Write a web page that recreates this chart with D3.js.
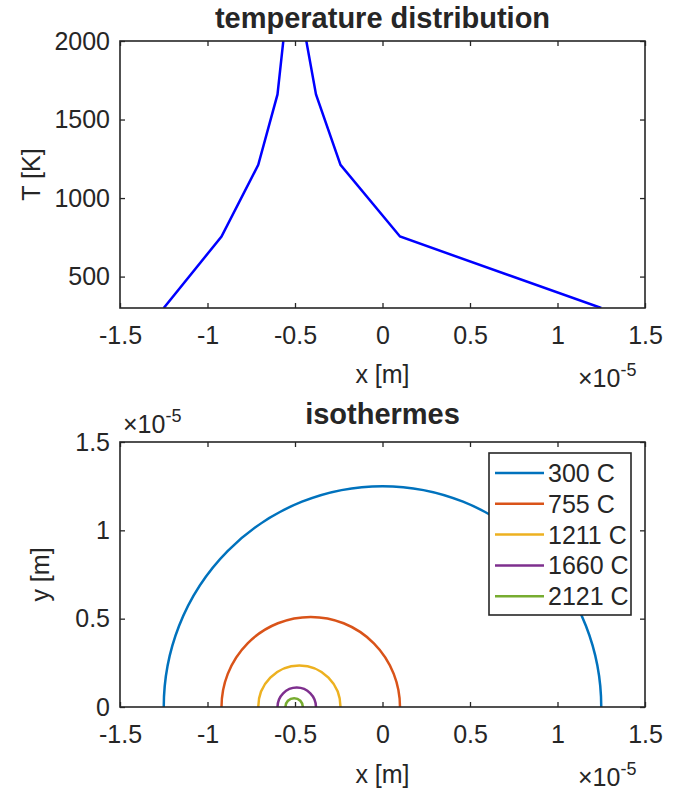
<!DOCTYPE html>
<html>
<head>
<meta charset="utf-8">
<script src="https://cdn.jsdelivr.net/npm/d3@7"></script>
<style>
  body { margin: 0; background: #fff; }
  text { font-family: "Liberation Sans", Arial, sans-serif; fill: #262626; }
</style>
</head>
<body>
<div id="chart"></div>
<script>
// isotherm temperatures and where each one crosses y = 0 (x in 1e-5 m)
var isoTemps = [300, 755, 1211, 1660, 2121];
var isoLeft = [-1.25, -0.92, -0.71, -0.60, -0.555];
var isoRight = [1.25, 0.10, -0.24, -0.38, -0.455];
var isoLabels = ["300 C", "755 C", "1211 C", "1660 C", "2121 C"];

var xTicks = [-1.5, -1, -0.5, 0, 0.5, 1, 1.5];
var tempTicks = [500, 1000, 1500, 2000];
var yTicks = [0, 0.5, 1, 1.5];

var colors = ["#0072BD", "#D95319", "#EDB120", "#7E2F8E", "#77AC30"];

var svg = d3.select("#chart").append("svg")
    .attr("width", 686)
    .attr("height", 792);

var left = 120, right = 645;
var x = d3.scaleLinear().domain([-1.5, 1.5]).range([left, right]);

function drawFrame(g, yScale, yVals, top, bottom) {
    var xb = d3.axisBottom(x).tickValues(xTicks).tickSize(-5).tickPadding(18)
        .tickFormat(function (d) { return String(d); });
    var xt = d3.axisTop(x).tickValues(xTicks).tickSize(-5).tickFormat("");
    var yl = d3.axisLeft(yScale).tickValues(yVals).tickSize(-5).tickPadding(10)
        .tickFormat(function (d) { return String(d); });
    var yr = d3.axisRight(yScale).tickValues(yVals).tickSize(-5).tickFormat("");

    g.append("g").attr("transform", "translate(0," + bottom + ")").call(xb);
    g.append("g").attr("transform", "translate(0," + top + ")").call(xt);
    g.append("g").attr("transform", "translate(" + left + ",0)").call(yl);
    g.append("g").attr("transform", "translate(" + right + ",0)").call(yr);

    g.selectAll(".domain").remove();
    g.selectAll(".tick line").attr("stroke", "#262626").attr("stroke-width", 1.3);
    g.selectAll(".tick text")
        .style("font-size", "25px")
        .attr("fill", "#262626");

    g.append("rect")
        .attr("x", left).attr("y", top)
        .attr("width", right - left).attr("height", bottom - top)
        .attr("fill", "none")
        .attr("stroke", "#262626")
        .attr("stroke-width", 1.6);
}

function exponentLabel(g, px, py) {
    var t = g.append("text").attr("x", px).attr("y", py).style("font-size", "25px");
    t.append("tspan").text("\u00d710");
    t.append("tspan").attr("dy", -11).style("font-size", "18px").text("-5");
}

// ---- top: temperature distribution ----
function drawProfile() {
    var top = 41, bottom = 308;
    var yT = d3.scaleLinear().domain([300, 2000]).range([bottom, top]);
    var g = svg.append("g");

    var pts = [];
    for (var i = 0; i < isoTemps.length; i++) pts.push([isoLeft[i], isoTemps[i]]);
    for (var j = isoTemps.length - 1; j >= 0; j--) pts.push([isoRight[j], isoTemps[j]]);

    g.append("clipPath").attr("id", "clipTop")
        .append("rect")
        .attr("x", left).attr("y", top)
        .attr("width", right - left).attr("height", bottom - top);

    var line = d3.line()
        .x(function (d) { return x(d[0]); })
        .y(function (d) { return yT(d[1]); });

    g.append("path")
        .datum(pts)
        .attr("clip-path", "url(#clipTop)")
        .attr("d", line)
        .attr("fill", "none")
        .attr("stroke", "#0000FF")
        .attr("stroke-width", 2.5);

    drawFrame(g, yT, tempTicks, top, bottom);

    g.append("text")
        .attr("x", (left + right) / 2).attr("y", 28)
        .attr("text-anchor", "middle")
        .style("font-size", "29px").style("font-weight", "bold")
        .text("temperature distribution");

    g.append("text")
        .attr("x", (left + right) / 2).attr("y", 383)
        .attr("text-anchor", "middle")
        .style("font-size", "25px")
        .text("x [m]");

    g.append("text")
        .attr("transform", "translate(40," + (top + bottom) / 2 + ") rotate(-90)")
        .attr("text-anchor", "middle")
        .style("font-size", "25px")
        .text("T [K]");

    exponentLabel(g, 578, 387);
}

// ---- bottom: isothermes ----
function drawIsotherms() {
    var top = 442, bottom = 707;
    var y = d3.scaleLinear().domain([0, 1.5]).range([bottom, top]);
    var g = svg.append("g");

    g.selectAll("path.iso")
        .data(isoTemps)
        .enter()
        .append("path")
        .attr("class", "iso")
        .attr("d", function (d, i) {
            var c = (isoLeft[i] + isoRight[i]) / 2;
            var r = (isoRight[i] - isoLeft[i]) / 2;
            var rx = x(c + r) - x(c);
            var ry = y(0) - y(r);
            return "M" + x(isoLeft[i]) + "," + y(0) +
                " A" + rx + "," + ry + " 0 0 1 " + x(isoRight[i]) + "," + y(0);
        })
        .attr("fill", "none")
        .attr("stroke", function (d, i) { return colors[i]; })
        .attr("stroke-width", 2.5);

    drawFrame(g, y, yTicks, top, bottom);

    g.append("text")
        .attr("x", (left + right) / 2).attr("y", 424)
        .attr("text-anchor", "middle")
        .style("font-size", "29px").style("font-weight", "bold")
        .text("isothermes");

    g.append("text")
        .attr("x", (left + right) / 2).attr("y", 783)
        .attr("text-anchor", "middle")
        .style("font-size", "25px")
        .text("x [m]");

    g.append("text")
        .attr("transform", "translate(49," + (top + bottom) / 2 + ") rotate(-90)")
        .attr("text-anchor", "middle")
        .style("font-size", "25px")
        .text("y [m]");

    exponentLabel(g, 578, 786);
    exponentLabel(g, 123, 433);

    // legend
    var lg = g.append("g");
    lg.append("rect")
        .attr("x", 489).attr("y", 453)
        .attr("width", 142).attr("height", 162)
        .attr("fill", "#fff")
        .attr("stroke", "#262626")
        .attr("stroke-width", 1.6);

    var items = lg.selectAll("g.item")
        .data(isoLabels)
        .enter()
        .append("g")
        .attr("class", "item")
        .attr("transform", function (d, i) { return "translate(0," + (473 + i * 30.8) + ")"; });

    items.append("line")
        .attr("x1", 495).attr("x2", 544)
        .attr("y1", 0).attr("y2", 0)
        .attr("stroke", function (d, i) { return colors[i]; })
        .attr("stroke-width", 2.5);

    items.append("text")
        .attr("x", 548).attr("y", 9)
        .style("font-size", "25px")
        .text(function (d) { return d; });
}

drawProfile();
drawIsotherms();
</script>
</body>
</html>
